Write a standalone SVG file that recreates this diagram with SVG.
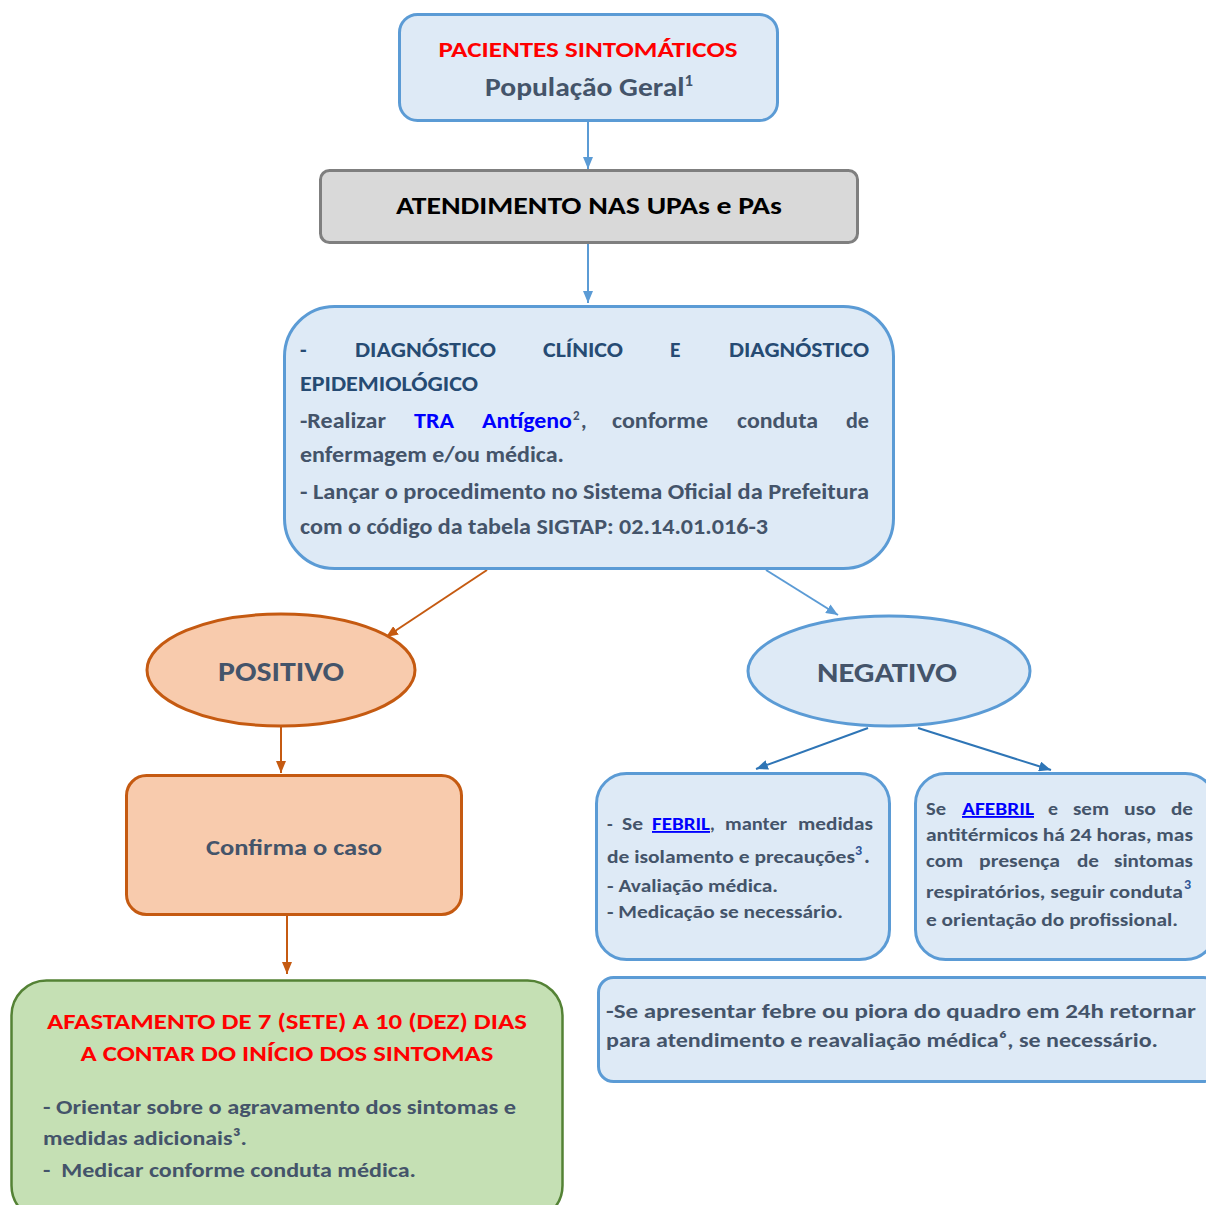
<svg xmlns="http://www.w3.org/2000/svg" width="1206" height="1205" viewBox="0 0 1206 1205">
<defs>
<style>
text{font-family:Carlito,Lato,"Open Sans",sans-serif;font-weight:bold;fill:#44546A}
.blue{fill:#DEEAF6;stroke:#5B9BD5;stroke-width:3}
.red{fill:#FF0000}
.dk{fill:#264B73}
.lnk{fill:#0000FF}
.sup{fill:#2F5597}
.c{stroke-width:2;fill:none}
</style>
<marker id="aB" viewBox="0 0 12 10" refX="12" refY="5" markerWidth="12" markerHeight="10" markerUnits="userSpaceOnUse" orient="auto"><path d="M0,0L12,5L0,10z" fill="#5B9BD5"/></marker>
<marker id="aD" viewBox="0 0 12 10" refX="12" refY="5" markerWidth="12" markerHeight="10" markerUnits="userSpaceOnUse" orient="auto"><path d="M0,0L12,5L0,10z" fill="#2E75B6"/></marker>
<marker id="aO" viewBox="0 0 12 10" refX="12" refY="5" markerWidth="12" markerHeight="10" markerUnits="userSpaceOnUse" orient="auto"><path d="M0,0L12,5L0,10z" fill="#C55A11"/></marker>
</defs>
<rect width="1206" height="1205" fill="#FFFFFF"/>
<g id="connectors">
<line class="c" x1="588" y1="122" x2="588" y2="169" stroke="#5B9BD5" marker-end="url(#aB)"/>
<line class="c" x1="588" y1="244" x2="588" y2="303" stroke="#5B9BD5" marker-end="url(#aB)"/>
<line class="c" x1="487" y1="570" x2="386" y2="637" stroke="#C55A11" marker-end="url(#aO)"/>
<line class="c" x1="766" y1="570" x2="838" y2="615" stroke="#5B9BD5" marker-end="url(#aB)"/>
<line class="c" x1="281" y1="727" x2="281" y2="773" stroke="#C55A11" marker-end="url(#aO)"/>
<line class="c" x1="287" y1="916" x2="287" y2="974" stroke="#C55A11" marker-end="url(#aO)"/>
<line class="c" x1="868" y1="728" x2="756" y2="769" stroke="#2E75B6" marker-end="url(#aD)"/>
<line class="c" x1="918" y1="728" x2="1051" y2="770" stroke="#2E75B6" marker-end="url(#aD)"/>
</g>
<g id="n1">
<rect class="blue" x="399.5" y="14.5" width="378" height="106" rx="18"/>
<text x="588" y="57" font-size="22.5" text-anchor="middle" class="red" textLength="299" lengthAdjust="spacingAndGlyphs">PACIENTES SINTOMÁTICOS</text>
<text x="485" y="96" font-size="26.5" textLength="208" lengthAdjust="spacingAndGlyphs">População Geral<tspan font-size="15" dy="-10">1</tspan></text>
</g>
<g id="n2">
<rect x="320.5" y="170.5" width="537" height="72" rx="9" fill="#D9D9D9" stroke="#7F7F7F" stroke-width="3"/>
<text x="396" y="214" font-size="24" style="fill:#000" textLength="386" lengthAdjust="spacingAndGlyphs">ATENDIMENTO NAS UPAs e PAs</text>
</g>
<g id="n3">
<rect class="blue" x="284.5" y="306.5" width="609" height="262" rx="50"/>
<g font-size="21.5">
<text x="300" y="357" class="dk">-</text>
<text x="355" y="357" class="dk" textLength="141" lengthAdjust="spacingAndGlyphs">DIAGNÓSTICO</text>
<text x="543" y="357" class="dk" textLength="80" lengthAdjust="spacingAndGlyphs">CLÍNICO</text>
<text x="670" y="357" class="dk">E</text>
<text x="729" y="357" class="dk" textLength="140" lengthAdjust="spacingAndGlyphs">DIAGNÓSTICO</text>
<text x="300" y="391" class="dk" textLength="178" lengthAdjust="spacingAndGlyphs">EPIDEMIOLÓGICO</text>
<text x="300" y="428" textLength="86" lengthAdjust="spacingAndGlyphs">-Realizar</text>
<text x="414" y="428" class="lnk" textLength="40" lengthAdjust="spacingAndGlyphs">TRA</text>
<text x="482" y="428" class="lnk" textLength="90" lengthAdjust="spacingAndGlyphs">Antígeno</text>
<text x="573" y="420" font-size="13">2</text>
<text x="581" y="428">,</text>
<text x="612" y="428" textLength="96" lengthAdjust="spacingAndGlyphs">conforme</text>
<text x="737" y="428" textLength="81" lengthAdjust="spacingAndGlyphs">conduta</text>
<text x="869" y="428" text-anchor="end" textLength="23" lengthAdjust="spacingAndGlyphs">de</text>
<text x="300" y="462" textLength="264" lengthAdjust="spacingAndGlyphs">enfermagem e/ou médica.</text>
<text x="300" y="499" textLength="569" lengthAdjust="spacingAndGlyphs">- Lançar o procedimento no Sistema Oficial da Prefeitura</text>
<text x="300" y="534" textLength="468" lengthAdjust="spacingAndGlyphs">com o código da tabela SIGTAP: 02.14.01.016-3</text>
</g>
</g>
<g id="n4">
<ellipse cx="281" cy="670" rx="134" ry="56" fill="#F8CBAD" stroke="#C55A11" stroke-width="3"/>
<text x="281" y="681" font-size="28.5" text-anchor="middle" textLength="126" lengthAdjust="spacingAndGlyphs">POSITIVO</text>
</g>
<g id="n5">
<ellipse class="blue" cx="889" cy="671" rx="141" ry="55"/>
<text x="887" y="682" font-size="28.5" text-anchor="middle" textLength="140" lengthAdjust="spacingAndGlyphs">NEGATIVO</text>
</g>
<g id="n6">
<rect x="126.5" y="775.5" width="335" height="139" rx="20" fill="#F8CBAD" stroke="#C55A11" stroke-width="3"/>
<text x="294" y="855" font-size="22.5" text-anchor="middle" textLength="176" lengthAdjust="spacingAndGlyphs">Confirma o caso</text>
</g>
<g id="n7">
<rect x="11.5" y="980.5" width="551" height="240" rx="35" fill="#C5E0B4" stroke="#548235" stroke-width="2.5"/>
<text x="287" y="1029" font-size="23" text-anchor="middle" class="red" textLength="480" lengthAdjust="spacingAndGlyphs">AFASTAMENTO DE 7 (SETE) A 10 (DEZ) DIAS</text>
<text x="287" y="1061" font-size="23" text-anchor="middle" class="red" textLength="413" lengthAdjust="spacingAndGlyphs">A CONTAR DO INÍCIO DOS SINTOMAS</text>
<text x="43" y="1114" font-size="21" textLength="473" lengthAdjust="spacingAndGlyphs">- Orientar sobre o agravamento dos sintomas e</text>
<text x="43" y="1145" font-size="21" textLength="204" lengthAdjust="spacingAndGlyphs">medidas adicionais³.</text>
<text x="43" y="1177" font-size="21" textLength="373" lengthAdjust="spacingAndGlyphs">-&#160; Medicar conforme conduta médica.</text>
</g>
<g id="n8">
<rect class="blue" x="596.5" y="773.5" width="293" height="186" rx="30"/>
<g font-size="18.5">
<text x="607" y="830">-</text>
<text x="622" y="830" textLength="21" lengthAdjust="spacingAndGlyphs">Se</text>
<text x="652" y="830" class="lnk" text-decoration="underline" textLength="58" lengthAdjust="spacingAndGlyphs">FEBRIL</text>
<text x="710" y="830">,</text>
<text x="725" y="830" textLength="62" lengthAdjust="spacingAndGlyphs">manter</text>
<text x="873" y="830" text-anchor="end" textLength="75" lengthAdjust="spacingAndGlyphs">medidas</text>
<text x="607" y="863" textLength="248" lengthAdjust="spacingAndGlyphs">de isolamento e precauções</text>
<text x="855" y="855" class="sup" font-size="14">3</text>
<text x="864" y="863" font-size="22">.</text>
<text x="607" y="892" textLength="171" lengthAdjust="spacingAndGlyphs">- Avaliação médica.</text>
<text x="607" y="918" textLength="236" lengthAdjust="spacingAndGlyphs">- Medicação se necessário.</text>
</g>
</g>
<g id="n9">
<rect class="blue" x="915.5" y="773.5" width="300" height="186" rx="30"/>
<g font-size="18.5">
<text x="926" y="815" textLength="20" lengthAdjust="spacingAndGlyphs">Se</text>
<text x="962" y="815" class="lnk" text-decoration="underline" textLength="72" lengthAdjust="spacingAndGlyphs">AFEBRIL</text>
<text x="1048" y="815" textLength="10" lengthAdjust="spacingAndGlyphs">e</text>
<text x="1073" y="815" textLength="36" lengthAdjust="spacingAndGlyphs">sem</text>
<text x="1124" y="815" textLength="32" lengthAdjust="spacingAndGlyphs">uso</text>
<text x="1193" y="815" text-anchor="end" textLength="22" lengthAdjust="spacingAndGlyphs">de</text>
<text x="926" y="841" textLength="267" lengthAdjust="spacingAndGlyphs">antitérmicos há 24 horas, mas</text>
<text x="926" y="867" textLength="37" lengthAdjust="spacingAndGlyphs">com</text>
<text x="979" y="867" textLength="81" lengthAdjust="spacingAndGlyphs">presença</text>
<text x="1077" y="867" textLength="22" lengthAdjust="spacingAndGlyphs">de</text>
<text x="1193" y="867" text-anchor="end" textLength="79" lengthAdjust="spacingAndGlyphs">sintomas</text>
<text x="926" y="898" textLength="257" lengthAdjust="spacingAndGlyphs">respiratórios, seguir conduta</text>
<text x="1184" y="889" font-size="14" class="sup">3</text>
<text x="926" y="926" textLength="252" lengthAdjust="spacingAndGlyphs">e orientação do profissional.</text>
</g>
</g>
<g id="n10">
<rect class="blue" x="598.5" y="977.5" width="620" height="104" rx="15"/>
<text x="606" y="1018" font-size="20.5" textLength="590" lengthAdjust="spacingAndGlyphs">-Se apresentar febre ou piora do quadro em 24h retornar</text>
<text x="606" y="1047" font-size="20.5" textLength="552" lengthAdjust="spacingAndGlyphs">para atendimento e reavaliação médica⁶, se necessário.</text>
</g>
</svg>
